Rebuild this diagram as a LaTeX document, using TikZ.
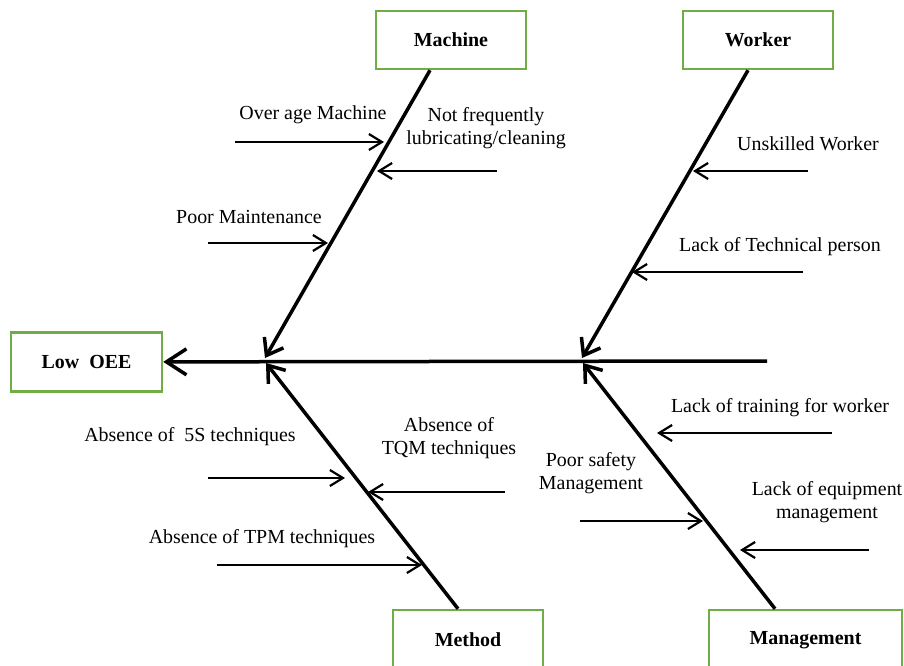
\documentclass[tikz,border=0pt]{standalone}
\usepackage{fontspec}
\setmainfont{Liberation Serif}
\usetikzlibrary{arrows.meta}
\definecolor{boxgreen}{RGB}{112,173,71}
\tikzset{cat/.append style={draw=boxgreen, line width=2.5bp, minimum width=150bp, minimum height=58bp, inner sep=0bp, font=\fontsize{20}{23}\selectfont\bfseries}}
\tikzset{cause/.append style={align=center}}
\tikzset{bone/.append style={line width=3.5bp, -{Straight Barb[length=15bp,width=22bp]}}}
\tikzset{twig/.append style={line width=2.2bp, -{Straight Barb[length=13bp,width=16bp]}}}

\begin{document}
\begin{tikzpicture}[x=1bp, y=-1bp, font=\fontsize{20}{23}\selectfont]
                \useasboundingbox (0,0) rectangle (904,666);
                \clip (0,0) rectangle (904,666);
                % categories
                \node[cat] (mach) at (451,40) {Machine};
                \node[cat] (work) at (758,40) {Worker};
                \node[cat, minimum width=151bp, minimum height=59bp] (low) at (86.5,362) {Low\ \ OEE};
                \node[cat, minimum height=60bp] (meth) at (468,640) {Method};
                \node[cat, minimum width=193bp, minimum height=60bp] (mgmt) at (805.5,640) {Management};
                % spine and bones
                \coordinate (tail) at (767,361);
                \coordinate (mh) at (265,358);
                \coordinate (wh) at (582,358);
                \coordinate (th) at (266,363);
                \coordinate (gh) at (583,363);
                \path (tail) edge[bone, -{Straight Barb[length=20bp,width=26bp]}] (low);
                \path ([xshift=-21bp]mach.south) edge[bone] (mh);
                \path ([xshift=-10bp]work.south) edge[bone] (wh);
                \path ([xshift=-10bp]meth.north) edge[bone] (th);
                \path ([xshift=-30.5bp]mgmt.north) edge[bone] (gh);
                % causes
                \node (oam) at (313,115) {Over age Machine};
                \node[cause] (nfl) at (486,128) {Not frequently\\lubricating/cleaning};
                \node (pm) at (249,217) {Poor Maintenance};
                \node (usw) at (808,144) {Unskilled Worker};
                \node (ltp) at (780,247) {Lack of Technical person};
                \node (fss) at (190,437) {Absence of\ \ 5S techniques};
                \node[cause] (tqm) at (449,438) {Absence of\\TQM techniques};
                \node (tpm) at (262,539) {Absence of TPM techniques};
                \node (ltw) at (780,408) {Lack of training for worker};
                \node[cause] (psm) at (591,473) {Poor safety\\Management};
                \node[cause] (lem) at (827,502) {Lack of equipment\\management};
                % cause arrows
                \coordinate (oam1) at (235,142); \coordinate (oam2) at (384,142);
                \coordinate (nfl1) at (497,171); \coordinate (nfl2) at (377,171);
                \coordinate (pm1) at (208,243);  \coordinate (pm2) at (328,243);
                \coordinate (usw1) at (808,171); \coordinate (usw2) at (693,171);
                \coordinate (ltp1) at (803,272); \coordinate (ltp2) at (632,272);
                \coordinate (fss1) at (208,478); \coordinate (fss2) at (345,478);
                \coordinate (tqm1) at (505,492); \coordinate (tqm2) at (368,492);
                \coordinate (tpm1) at (217,565); \coordinate (tpm2) at (422,565);
                \coordinate (ltw1) at (832,433); \coordinate (ltw2) at (657,433);
                \coordinate (psm1) at (580,521); \coordinate (psm2) at (703,521);
                \coordinate (lem1) at (869,550); \coordinate (lem2) at (740,550);
                \path (oam1) edge[twig] (oam2);
                \path (nfl1) edge[twig] (nfl2);
                \path (pm1) edge[twig] (pm2);
                \path (usw1) edge[twig] (usw2);
                \path (ltp1) edge[twig] (ltp2);
                \path (fss1) edge[twig] (fss2);
                \path (tqm1) edge[twig] (tqm2);
                \path (tpm1) edge[twig] (tpm2);
                \path (ltw1) edge[twig] (ltw2);
                \path (psm1) edge[twig] (psm2);
                \path (lem1) edge[twig] (lem2);
            \end{tikzpicture}
\end{document}
